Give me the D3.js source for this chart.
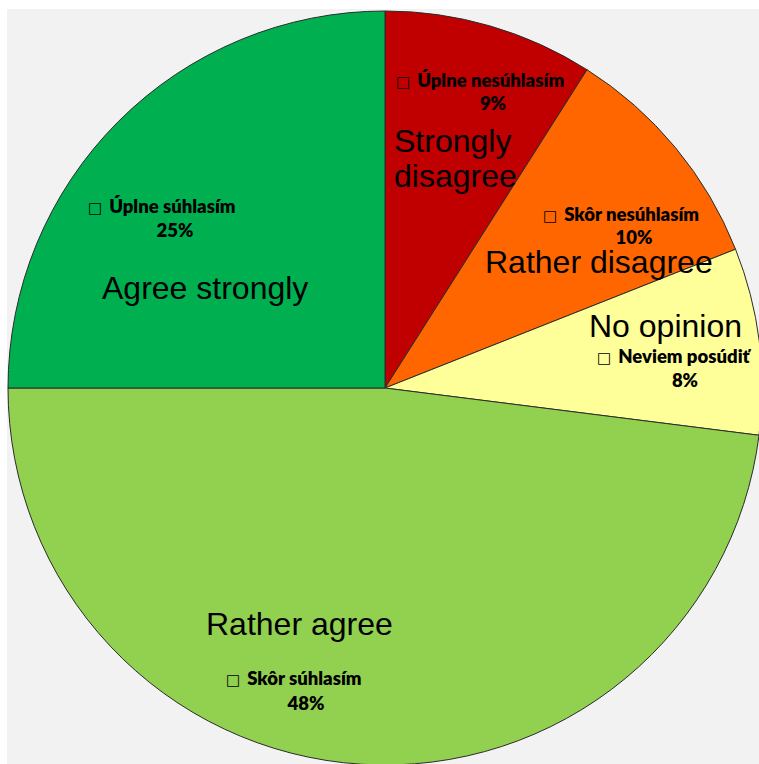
<!DOCTYPE html>
<html><head><meta charset="utf-8">
<script src="https://cdn.jsdelivr.net/npm/d3@7"></script>
<style>html,body{margin:0;padding:0;background:#fff;}svg{display:block;}</style>
</head><body>
<script>
// Data
const categories = ["Strongly disagree", "Rather disagree", "No opinion", "Rather agree", "Agree strongly"];
const englishLines = [["Strongly", "disagree"], ["Rather disagree"], ["No opinion"], ["Rather agree"], ["Agree strongly"]];
const slovakLabels = ["Úplne nesúhlasím", "Skôr nesúhlasím", "Neviem posúdiť", "Skôr súhlasím", "Úplne súhlasím"];
const values = [9, 10, 8, 48, 25];
const colors = ["#C00000", "#FF6600", "#FFFF99", "#92D050", "#00B050"];

// Layout (relative to pie centre)
const engPos = [[9, -236], [100, -115], [204, -51], [-179, 247], [-283, -89]];
const skPos = [[11, -301, 108, -278], [158, -167, 249, -144], [212, -25, 300, -1], [-159, 297, -79, 322], [-297, -175, -210, -151]];

const W = 759, H = 764, cx = 385, cy = 388, R = 377;
const svg = d3.select("body").append("svg").attr("width", W).attr("height", H);
svg.append("rect").attr("x", 7).attr("y", 9).attr("width", W - 7).attr("height", H - 9).attr("fill", "#F2F2F2");

const pie = d3.pie().sort(null).value(d => d)(values);
const arc = d3.arc().innerRadius(0).outerRadius(R);
const g = svg.append("g").attr("transform", `translate(${cx},${cy})`);
g.selectAll("path").data(pie).join("path")
  .attr("d", arc).attr("fill", (d, i) => colors[i])
  .attr("stroke", "#2b2b2b").attr("stroke-width", 1);

// English labels
englishLines.forEach((lines, i) => {
  const t = g.append("text").attr("font-family", "Liberation Sans, Arial, sans-serif")
    .attr("font-size", 32).attr("fill", "#000");
  lines.forEach((ln, j) => {
    t.append("tspan").attr("x", engPos[i][0]).attr("y", engPos[i][1] + j * 35).text(ln);
  });
});

// Slovak labels
slovakLabels.forEach((lab, i) => {
  const p = skPos[i];
  const t = g.append("text").attr("x", p[0]).attr("y", p[1])
    .attr("font-family", "Lato, sans-serif").attr("font-weight", 800).attr("font-size", 18.5).attr("fill", "#000");
  t.append("tspan").attr("font-family", "DejaVu Sans").attr("font-weight", 400).attr("font-size", 15).text("□");
  t.append("tspan").attr("dx", 7).text(lab);
  g.append("text").attr("x", p[2]).attr("y", p[3]).attr("text-anchor", "middle")
    .attr("font-family", "Lato, sans-serif").attr("font-weight", 800).attr("font-size", 18.5).attr("fill", "#000")
    .text(values[i] + "%");
});
</script>
</body></html>
